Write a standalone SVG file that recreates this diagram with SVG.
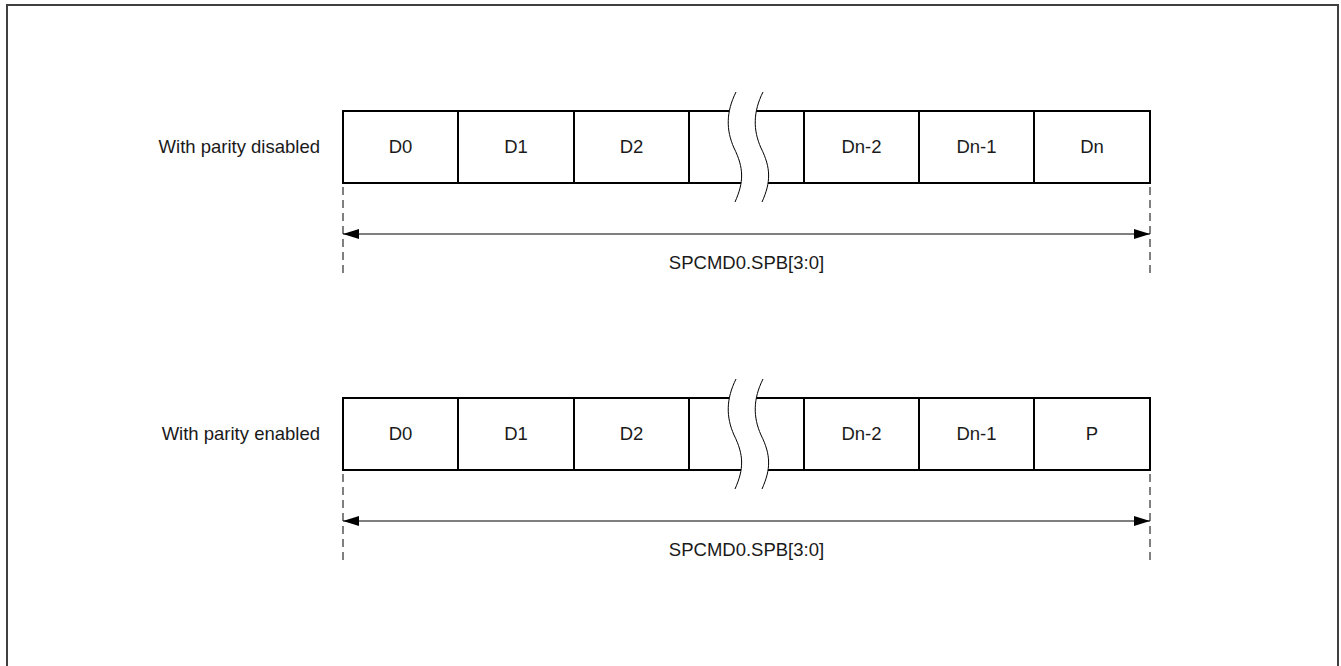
<svg xmlns="http://www.w3.org/2000/svg" xmlns:xlink="http://www.w3.org/1999/xlink" width="1341" height="666" viewBox="0 0 1341 666">
  <style>
    .frame { fill: none; stroke: #404040; stroke-width: 2; }
    .box { fill: #ffffff; stroke: #000000; stroke-width: 2; }
    .div { stroke: #000000; stroke-width: 2; }
    .brkfill { fill: #ffffff; stroke: none; }
    .brk { fill: none; stroke: #000000; stroke-width: 1; }
    .dash { stroke: #000000; stroke-width: 1; stroke-dasharray: 8 5; }
    .arrow { stroke: #000000; stroke-width: 1; marker-start: url(#ahL); marker-end: url(#ahR); }
    text { font-family: "Liberation Sans", Arial, sans-serif; font-size: 18.5px; fill: #1a1a1a; }
    .c { text-anchor: middle; }
    .r { text-anchor: end; }
  </style>
  <defs>
    <marker id="ahR" markerWidth="16" markerHeight="10" refX="16" refY="5" orient="auto" markerUnits="userSpaceOnUse">
      <path d="M0,0 L16,5 L0,10 Z" fill="#000"/>
    </marker>
    <marker id="ahL" markerWidth="16" markerHeight="10" refX="0" refY="5" orient="auto" markerUnits="userSpaceOnUse">
      <path d="M16,0 L0,5 L16,10 Z" fill="#000"/>
    </marker>
    <g id="brkshape">
      <path class="brkfill" d="M736,-19 C726,1 726,19 734,37 C744,57 744,71 735,91 L762,91 C771,71 771,57 761,37 C753,19 753,1 763,-19 Z"/>
      <path class="brk" d="M736,-19 C726,1 726,19 734,37 C744,57 744,71 735,91"/>
      <path class="brk" d="M763,-19 C753,1 753,19 761,37 C771,57 771,71 762,91"/>
    </g>
  </defs>

  <rect class="frame" x="7" y="5" width="1331" height="700"/>

  <g id="row-disabled">
    <text class="r" x="320" y="153">With parity disabled</text>
    <rect class="box" x="343" y="111" width="807" height="72"/>
    <g class="div">
      <line x1="458" y1="111" x2="458" y2="183"/>
      <line x1="574" y1="111" x2="574" y2="183"/>
      <line x1="689" y1="111" x2="689" y2="183"/>
      <line x1="804" y1="111" x2="804" y2="183"/>
      <line x1="919" y1="111" x2="919" y2="183"/>
      <line x1="1034" y1="111" x2="1034" y2="183"/>
    </g>
    <use xlink:href="#brkshape" href="#brkshape" transform="translate(0,111)"/>
    <g id="d-D0"><text class="c" x="400.5" y="153">D0</text></g>
    <g id="d-D1"><text class="c" x="516" y="153">D1</text></g>
    <g id="d-D2"><text class="c" x="631.5" y="153">D2</text></g>
    <g id="d-Dn2"><text class="c" x="861.5" y="153">Dn-2</text></g>
    <g id="d-Dn1"><text class="c" x="976.5" y="153">Dn-1</text></g>
    <g id="d-Dn"><text class="c" x="1092" y="153">Dn</text></g>
  </g>

  <g id="row-enabled">
    <text class="r" x="320" y="440">With parity enabled</text>
    <rect class="box" x="343" y="398" width="807" height="72"/>
    <g class="div">
      <line x1="458" y1="398" x2="458" y2="470"/>
      <line x1="574" y1="398" x2="574" y2="470"/>
      <line x1="689" y1="398" x2="689" y2="470"/>
      <line x1="804" y1="398" x2="804" y2="470"/>
      <line x1="919" y1="398" x2="919" y2="470"/>
      <line x1="1034" y1="398" x2="1034" y2="470"/>
    </g>
    <use xlink:href="#brkshape" href="#brkshape" transform="translate(0,398)"/>
    <g id="e-D0"><text class="c" x="400.5" y="440">D0</text></g>
    <g id="e-D1"><text class="c" x="516" y="440">D1</text></g>
    <g id="e-D2"><text class="c" x="631.5" y="440">D2</text></g>
    <g id="e-Dn2"><text class="c" x="861.5" y="440">Dn-2</text></g>
    <g id="e-Dn1"><text class="c" x="976.5" y="440">Dn-1</text></g>
    <g id="e-P"><text class="c" x="1092" y="440">P</text></g>
  </g>

  <g id="connectors">
    <line class="dash" x1="343" y1="187" x2="343" y2="274"/>
    <line class="dash" x1="1150" y1="187" x2="1150" y2="274"/>
    <line class="arrow" x1="343" y1="234" x2="1150" y2="234"/>
    <line class="dash" x1="343" y1="474" x2="343" y2="561"/>
    <line class="dash" x1="1150" y1="474" x2="1150" y2="561"/>
    <line class="arrow" x1="343" y1="521" x2="1150" y2="521"/>
  </g>
  <g id="labels">
    <text class="c" x="746.5" y="269">SPCMD0.SPB[3:0]</text>
    <text class="c" x="746.5" y="556">SPCMD0.SPB[3:0]</text>
  </g>
</svg>
